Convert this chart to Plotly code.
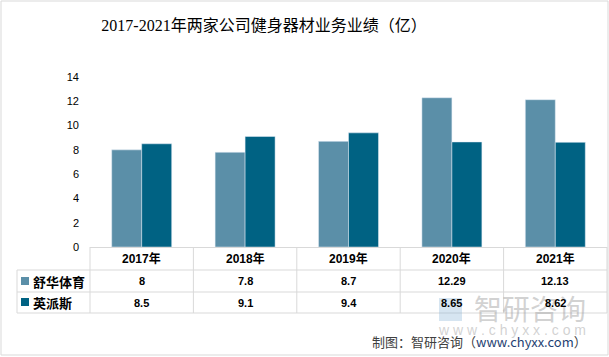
import plotly.graph_objects as go

years = ["2017年", "2018年", "2019年", "2020年", "2021年"]
series_names = ["舒华体育", "英派斯"]
shuhua = [8, 7.8, 8.7, 12.29, 12.13]
yingpaisi = [8.5, 9.1, 9.4, 8.65, 8.62]
shuhua_txt = ["8", "7.8", "8.7", "12.29", "12.13"]
yingpaisi_txt = ["8.5", "9.1", "9.4", "8.65", "8.62"]
colors = ["#5B8FA8", "#006283"]

W, H = 609, 357
L, R, T, B = 90, 607, 77, 247  # plot area in pixels


def px(x):
    return (x - L) / (R - L)


def py(y):
    return (B - y) / (B - T)


fig = go.Figure()
fig.add_trace(go.Bar(x=years, y=shuhua, name=series_names[0], marker_color=colors[0]))
fig.add_trace(go.Bar(x=years, y=yingpaisi, name=series_names[1], marker_color=colors[1]))

grid = "#d9d9d9"
shapes = []
# figure border
shapes.append(dict(type="rect", xref="paper", yref="paper", x0=px(1), x1=px(608), y0=py(1), y1=py(355),
                   line=dict(color=grid, width=1), fillcolor="rgba(0,0,0,0)", layer="below"))
# table lines
row_lines = [270, 292, 313]
for yy in row_lines:
    shapes.append(dict(type="line", xref="paper", yref="paper", x0=px(17), x1=px(R), y0=py(yy), y1=py(yy),
                       line=dict(color=grid, width=1)))
n = len(years)
cw = (R - L) / n
for i in range(n + 1):
    xx = L + i * cw
    shapes.append(dict(type="line", xref="paper", yref="paper", x0=px(xx), x1=px(xx), y0=py(B), y1=py(313),
                       line=dict(color=grid, width=1)))
shapes.append(dict(type="line", xref="paper", yref="paper", x0=px(17), x1=px(17), y0=py(270), y1=py(313),
                   line=dict(color=grid, width=1)))
# legend keys
for k, (y0, y1) in enumerate([(277, 285), (298, 306)]):
    shapes.append(dict(type="rect", xref="paper", yref="paper", x0=px(21), x1=px(29), y0=py(y0), y1=py(y1),
                       line=dict(width=0), fillcolor=colors[k]))

# watermark (drawn first, beneath the table text)
ann = []
ann.append(dict(x=px(530), y=py(308), text="智研咨询",
                font=dict(family="Noto Sans CJK SC", size=28, color="rgba(165,165,165,0.5)")))
ann.append(dict(x=px(512), y=py(330), text="w w w . c h y x x . c o m",
                font=dict(family="Liberation Sans", size=14, color="rgba(165,165,165,0.5)")))
shapes.append(dict(type="rect", xref="paper", yref="paper", x0=px(439), x1=px(462), y0=py(298), y1=py(321),
                   line=dict(width=0), fillcolor="rgba(120,170,210,0.3)"))

cell_font = dict(family="Liberation Sans, Noto Sans CJK SC", size=11, color="#000000")
for i, yr in enumerate(years):
    cx = px(L + (i + 0.5) * cw)
    ann.append(dict(x=cx, y=py(258.5), text="<b>%s</b>" % yr,
                    font=dict(family="Liberation Sans, Noto Sans CJK SC", size=12, color="#000000")))
    ann.append(dict(x=cx, y=py(281), text="<b>%s</b>" % shuhua_txt[i], font=cell_font))
    ann.append(dict(x=cx, y=py(302.5), text="<b>%s</b>" % yingpaisi_txt[i], font=cell_font))
for k, yy in enumerate([281, 302.5]):
    ann.append(dict(x=px(31), y=py(yy), xanchor="left", text="<b>%s</b>" % series_names[k],
                    font=dict(family="Noto Sans CJK SC", size=13, color="#000000")))
# footer
ann.append(dict(x=px(589), y=py(341), xanchor="right",
                text="制图：智研咨询（<span style='color:#1F3F73'>www.chyxx.com</span>）",
                font=dict(family="Noto Sans CJK SC", size=13, color="#404040")))

for a in ann:
    a.setdefault("xanchor", "center")
    a.setdefault("yanchor", "middle")
    a["xref"] = "paper"
    a["yref"] = "paper"
    a["showarrow"] = False

fig.update_layout(
    width=W, height=H,
    margin=dict(l=L, r=W - R, t=T, b=H - B, pad=0),
    paper_bgcolor="white", plot_bgcolor="white",
    title=dict(text="2017-2021年两家公司健身器材业务业绩（亿）", x=264 / W, xanchor="center", y=1 - 25 / H,
               yanchor="middle", font=dict(family="Liberation Serif, Noto Sans CJK SC", size=16, color="#000000")),
    barmode="group", bargap=0.42, bargroupgap=0,
    showlegend=False,
    xaxis=dict(showticklabels=False, showline=True, linecolor=grid, linewidth=1, ticks="", showgrid=False,
               fixedrange=True),
    yaxis=dict(range=[0, 14], dtick=2, tick0=0, showgrid=False, zeroline=False, showline=False,
               ticks="", ticklabelstandoff=10,
               tickfont=dict(family="Liberation Sans", size=11, color="#000000")),
    shapes=shapes, annotations=ann,
)
fig.write_html("out.html", config={"displayModeBar": False},
               post_script="document.body.style.margin='0';document.body.style.padding='0';")
